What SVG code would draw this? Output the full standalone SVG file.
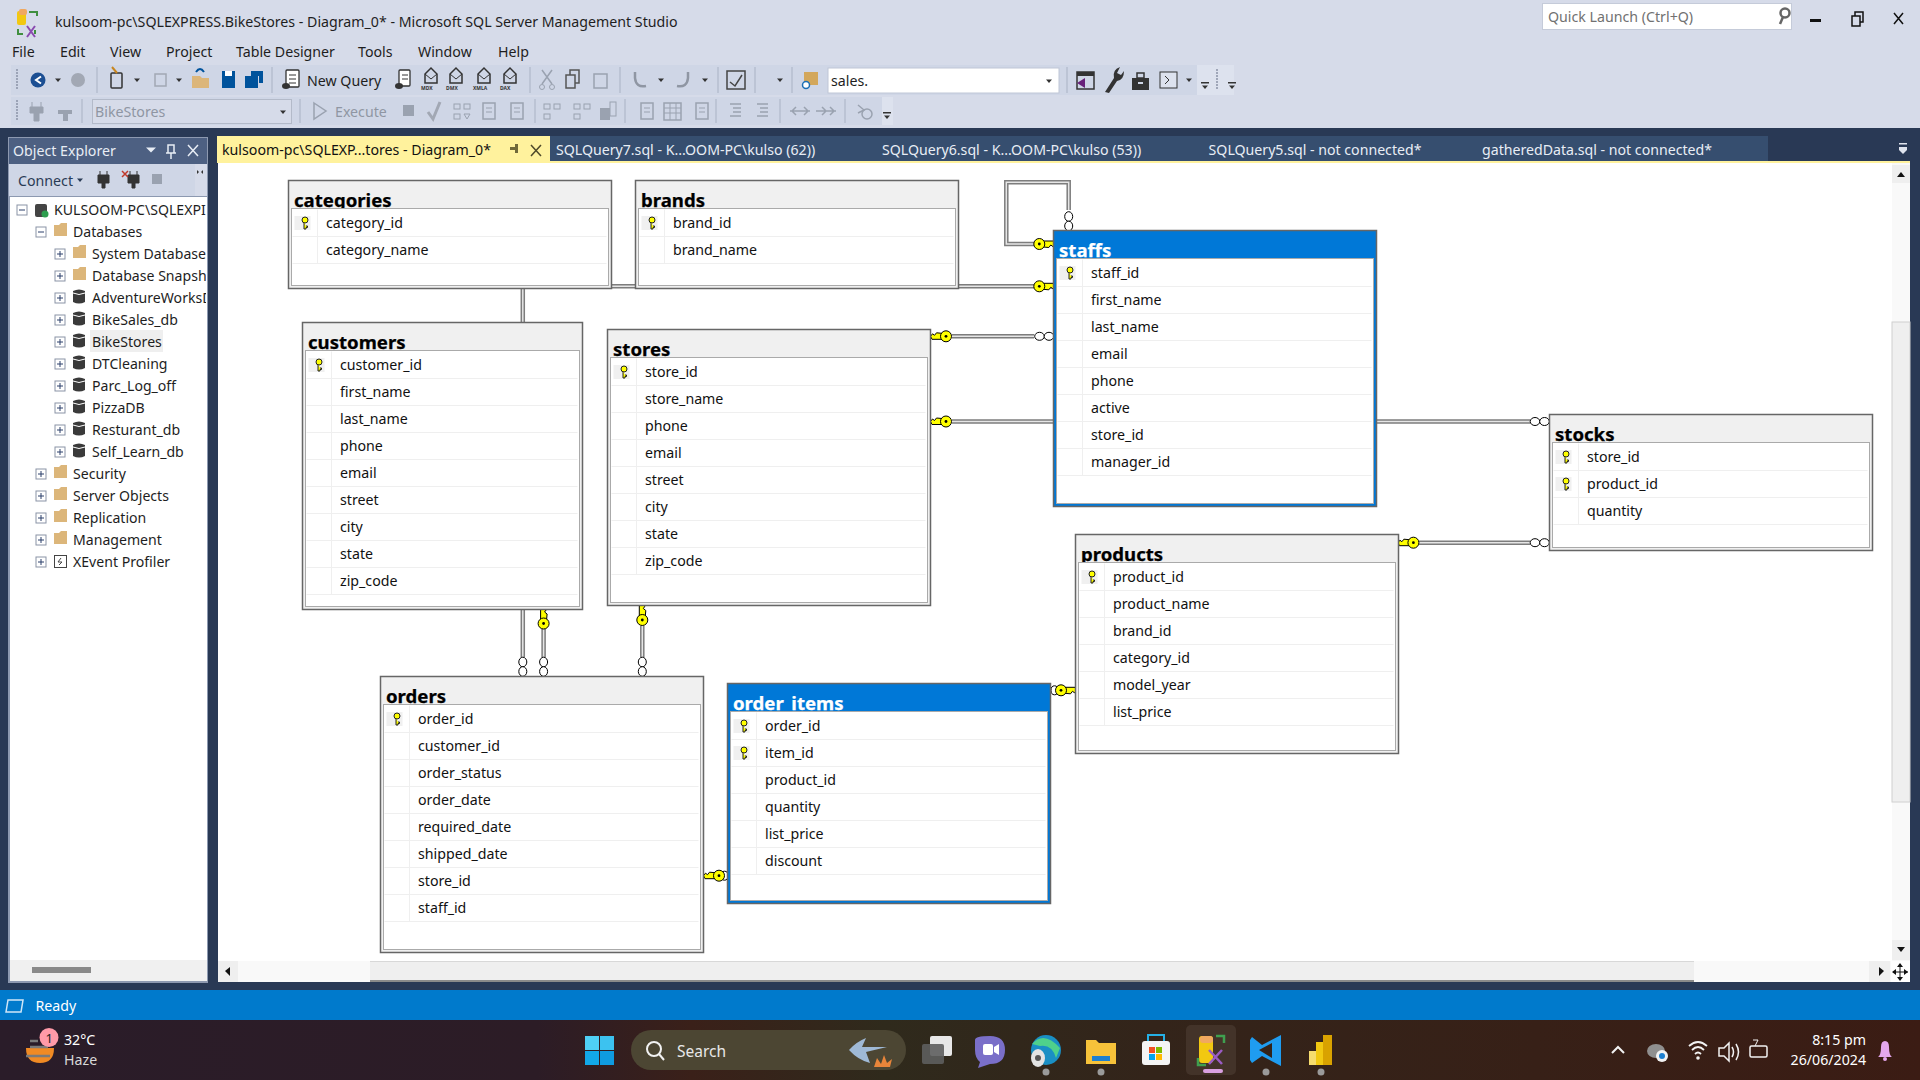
<svg xmlns="http://www.w3.org/2000/svg" width="1920" height="1080" viewBox="0 0 1920 1080">
<style>
text{font-family:"Noto Sans","Open Sans","Liberation Sans",sans-serif;fill:#1e1e1e;font-size:14.2px}
.cell{font-size:14.2px;fill:#111;transform:translateY(-1px)}
.title{font-size:18.6px;font-weight:700;fill:#000;stroke:#000;stroke-width:.25}
.title.sel{fill:#fff;stroke:#fff}
.box{fill:#f0f0f0;stroke:#666;stroke-width:1.5}
.box.sel{fill:#0078d7}
.inner{fill:#fff;stroke:#aaa;stroke-width:1}
.row{fill:none;stroke:#efefef;stroke-width:1}
.menu{font-size:14.2px}
.tree{font-size:14.1px;fill:#1e1e1e}
.tab{font-size:14.15px;fill:#e8edf5}
.dis{fill:#8f96a3}
.c-o{fill:none;stroke:#7d7d7d;stroke-width:4.5}
.c-i{fill:none;stroke:#e6e6e6;stroke-width:1.5}
.sep{stroke:#a9b2c4;stroke-width:1}
.ic{fill:#424242}
.ig{fill:#9aa2b0}
.navy{fill:#00539c}
.tb{fill:#cfd6e6}
.wt{fill:#fff;font-size:14.2px}
.plus{fill:#fff;stroke:#8a93a6;stroke-width:1}
.pm{stroke:#2a3f6b;stroke-width:1;fill:none}
.dd{fill:#333}
.dot{fill:#9a9a9a}
.lab{font-size:5px;font-weight:700;fill:#333}
</style>
<defs>
<linearGradient id="tbg" x1="0" x2="1" y1="0" y2="0">
<stop offset="0" stop-color="#2a1c29"/><stop offset=".28" stop-color="#2c1c26"/><stop offset=".36" stop-color="#3a2019"/><stop offset=".46" stop-color="#2f2a1c"/><stop offset=".6" stop-color="#33241a"/><stop offset="1" stop-color="#3b1c14"/>
</linearGradient>
<clipPath id="treeclip"><rect x="10" y="197" width="196" height="400"/></clipPath>
<g id="pk"><rect x="-8" y="-7" width="16" height="14" fill="#f0f0f0"/><circle cx="2.5" cy="-3" r="3" fill="#ff0" stroke="#222" stroke-width="1"/><path d="M1.5 -1V6H3.5V4.5H5V3H3.5" fill="#ff0" stroke="#222" stroke-width="1"/></g>
<g id="fk"><path d="M4 -3H14L15.500 0L13.500 2.500L11.500 1L9.500 3.500L4 3Z" fill="#ff0" stroke="#000" stroke-width="1"/><circle r="5.500" fill="#ff0" stroke="#000" stroke-width="1"/><circle r="1.400" fill="#000"/></g>
<g id="oo"><ellipse cx="0" rx="4.8" ry="4" fill="#fff" stroke="#000"/><ellipse cx="9.5" rx="4.8" ry="4" fill="#fff" stroke="#000"/></g>
<path id="l1" d="M1034 244H1006.3V182.3H1068.7V210"/>
<path id="l2" d="M1053 286.3H522.8V657"/>
<path id="l3" d="M952 336.3H1034"/>
<path id="l4" d="M952 421.5H1530"/>
<path id="l5" d="M1419 542.7H1530"/>
<path id="l6" d="M543.6 629V657"/>
<path id="l7" d="M642.3 626V657"/>
<g id="plusbox"><rect x="-5" y="-5" width="10" height="10" class="plus"/><path d="M-3 0H3M0 -3V3" class="pm"/></g>
<g id="minusbox"><rect x="-5" y="-5" width="10" height="10" class="plus"/><path d="M-3 0H3" class="pm"/></g>
<path id="folder" d="M0 -6H5L7 -8H13V5H0Z" fill="#dcb67a"/>
<g id="db"><path d="M0 -6Q6 -9 12 -6V5Q6 8 0 5Z" fill="#3a3a3a"/><path d="M0 -4Q6 -1 12 -4" stroke="#fff" fill="none"/></g>
<path id="ddm" d="M-3 -1.5H3L0 2Z" class="dd"/>
<g id="docg"><rect x="-6" y="-8" width="12" height="16" fill="none" stroke="#9aa2b0" stroke-width="1.5"/><path d="M-3 -3H3M-3 1H3" stroke="#9aa2b0"/></g>
<g id="cube"><path d="M-6 -2L0 -8L6 -2V7H-6Z" fill="none" stroke="#333" stroke-width="1.5"/><path d="M-6 -2L0 3L6 -2" fill="none" stroke="#333"/></g>
<path id="grip" d="M-1 -10H1M-1 -7H1M-1 -4H1M-1 -1H1M-1 2H1M-1 5H1M-1 8H1" stroke="#8a93a6" stroke-width="1.5"/>
</defs>

<rect width="1920" height="1080" fill="#d6dbe9"/>

<g id="titlebar">
<rect x="17" y="11" width="9" height="14" rx="2" fill="#f2c811"/><rect x="19" y="9" width="8" height="6" rx="2" fill="#f0a860"/>
<path d="M29 12H37V16M18 29V34H23M35 30V34" stroke="#3f8f3f" stroke-width="2" fill="none"/><path d="M27 26L35 37M35 26L27 37" stroke="#8a4bb0" stroke-width="2"/>
<text x="55" y="27" style="font-size:14.2px">kulsoom-pc\SQLEXPRESS.BikeStores - Diagram_0* - Microsoft SQL Server Management Studio</text>
<rect x="1542.500" y="3.500" width="249" height="26" fill="#fff" stroke="#c5cbd9"/>
<text x="1548" y="22" style="fill:#717171">Quick Launch (Ctrl+Q)</text>
<circle cx="1785" cy="13" r="4.500" fill="none" stroke="#666" stroke-width="2.500"/><path d="M1783 17L1780 24" stroke="#666" stroke-width="2.500"/>
<rect x="1810" y="19" width="11" height="3" fill="#111"/>
<rect x="1852" y="16" width="8" height="10" fill="none" stroke="#111" stroke-width="1.500"/><path d="M1855 16V12H1863V22H1860" fill="none" stroke="#111" stroke-width="1.500"/>
<path d="M1894 13L1903 24M1903 13L1894 24" stroke="#111" stroke-width="1.500"/>
</g>

<g id="menubar">
<text class="menu" x="12" y="57">File</text>
<text class="menu" x="60" y="57">Edit</text>
<text class="menu" x="110" y="57">View</text>
<text class="menu" x="166" y="57">Project</text>
<text class="menu" x="236" y="57">Table Designer</text>
<text class="menu" x="358" y="57">Tools</text>
<text class="menu" x="418" y="57">Window</text>
<text class="menu" x="498" y="57">Help</text>
</g>

<g id="toolbar1">
<rect class="tb" x="11" y="65" width="1186" height="30"/><rect x="1197" y="65" width="37" height="30" fill="#dde2ee"/>
<use href="#grip" x="17" y="80"/>
<circle cx="38" cy="80" r="7.500" fill="#1c4f93"/><path d="M41 76.500L36 80L41 83.500" stroke="#fff" stroke-width="2" fill="none"/>
<use href="#ddm" x="58" y="80"/>
<circle cx="78" cy="80" r="7" fill="#a2a8b4"/>
<path class="sep" d="M97 67V93"/>
<rect x="111" y="73" width="11" height="15" rx="1" fill="none" stroke="#333" stroke-width="1.500"/><path d="M112 67L117 73" stroke="#c8861f" stroke-width="2"/>
<use href="#ddm" x="137" y="80"/>
<rect x="155" y="74" width="11" height="12" fill="none" stroke="#a2a8b4" stroke-width="1.500"/>
<use href="#ddm" x="179" y="80"/>
<path d="M192 76H200L202 78H209V88H192Z" fill="#dcb67a"/><path d="M196 72Q200 66 204 72" stroke="#00539c" stroke-width="2" fill="none"/>
<path class="navy" d="M222 71H235V88H222Z"/><rect x="225" y="71" width="7" height="5" fill="#fff"/>
<path class="navy" d="M245 76H258V88H245Z"/><path class="navy" d="M251 71H263V83H259V76H251Z"/>
<path class="sep" d="M272 67V93"/>
<rect x="286" y="70" width="13" height="17" rx="1" fill="#fff" stroke="#333" stroke-width="1.300"/><path d="M289 75H296M289 79H296M289 83H296" stroke="#333"/><ellipse cx="286" cy="86" rx="4" ry="3" fill="#333"/>
<text x="307" y="86">New Query</text>
<rect x="399" y="70" width="11" height="16" rx="1" fill="#fff" stroke="#333" stroke-width="1.300"/><path d="M402 75H408M402 79H408" stroke="#333"/><ellipse cx="399" cy="86" rx="4" ry="3" fill="#333"/>
<use href="#cube" x="431" y="76"/><text class="lab" x="421" y="90">MDX</text>
<use href="#cube" x="456" y="76"/><text class="lab" x="446" y="90">DMX</text>
<use href="#cube" x="484" y="76"/><text class="lab" x="473" y="90">XMLA</text>
<use href="#cube" x="510" y="76"/><text class="lab" x="500" y="90">DAX</text>
<path class="sep" d="M530 67V93"/>
<path d="M542 70L552 84M552 70L542 84" stroke="#9aa2b0" stroke-width="1.500"/><circle cx="542" cy="87" r="2.500" fill="none" stroke="#9aa2b0"/><circle cx="552" cy="87" r="2.500" fill="none" stroke="#9aa2b0"/>
<rect x="570" y="70" width="9" height="13" fill="none" stroke="#555" stroke-width="1.500"/><rect x="566" y="75" width="9" height="13" fill="#cfd6e6" stroke="#555" stroke-width="1.500"/>
<rect x="594" y="74" width="13" height="14" fill="none" stroke="#9aa2b0" stroke-width="1.500"/>
<path class="sep" d="M620 67V93"/>
<path d="M635 72V78Q636 88 646 86" fill="none" stroke="#8f96a3" stroke-width="2.500"/><use href="#ddm" x="661" y="80"/>
<path d="M688 72V78Q687 88 677 86" fill="none" stroke="#8f96a3" stroke-width="2.500"/><use href="#ddm" x="705" y="80"/>
<path class="sep" d="M718 67V93"/>
<rect x="727" y="71" width="18" height="18" fill="#cfd6e6" stroke="#444" stroke-width="1.500"/><path d="M730 82L735 86L742 75" fill="none" stroke="#444" stroke-width="1.500"/>
<path class="sep" d="M755 67V93"/>
<use href="#ddm" x="780" y="80"/>
<path class="sep" d="M792 67V93"/>
<path d="M804 72H818V85H804Z" fill="#d3a75b"/><circle cx="806" cy="85" r="3.500" fill="#fff" stroke="#1c6fb5" stroke-width="1.500"/>
<rect x="828" y="68" width="231" height="25" fill="#fff" stroke="#bfc6d6"/>
<text x="831" y="86">sales.</text>
<use href="#ddm" x="1049" y="81"/>
<path class="sep" d="M1067 67V93"/>
<rect x="1077" y="72" width="17" height="17" fill="#cfd6e6" stroke="#333" stroke-width="1.500"/><rect x="1077" y="72" width="17" height="4" fill="#333"/><path d="M1077 83L1085 78V88Z" fill="#68217a"/>
<path d="M1105 92L1114 78Q1112 70 1120 67L1117 73L1121 75L1124 71Q1124 80 1117 81L1109 93Z" fill="#333"/>
<path d="M1132 78H1149V90H1132Z" fill="#333"/><rect x="1137" y="73" width="7" height="5" fill="none" stroke="#333" stroke-width="1.500"/><rect x="1138" y="82" width="5" height="2" fill="#cfd6e6"/>
<rect x="1160" y="72" width="17" height="16" fill="#dde2ee" stroke="#333"/><path d="M1165 76L1169 80L1165 84" fill="none" stroke="#333"/>
<use href="#ddm" x="1189" y="80"/>
<rect x="1201" y="82" width="8" height="1.500" fill="#333"/><use href="#ddm" x="1205" y="87"/>
<use href="#grip" x="1217" y="80"/>
<rect x="1228" y="82" width="8" height="1.500" fill="#333"/><use href="#ddm" x="1232" y="87"/>
</g>

<g id="toolbar2">
<rect class="tb" x="11" y="97" width="871" height="28"/><rect x="882" y="97" width="11" height="28" fill="#dde2ee"/>
<use href="#grip" x="17" y="111"/>
<path d="M32 102V107M41 102V107M30 107H43V113H39V121H34V113H30Z" class="ig" stroke="#9aa2b0"/>
<path d="M60 105V110M67 104V108M58 110H72V114H68V121H63V114H58Z" class="ig"/>
<path class="sep" d="M82 99V123"/>
<rect x="92.500" y="99.500" width="199" height="24" fill="#d6dbe9" stroke="#b3bac9"/>
<text x="95" y="117" class="dis">BikeStores</text>
<use href="#ddm" x="283" y="112"/>
<path class="sep" d="M300 99V123"/>
<path d="M314 103L326 111L314 119Z" fill="#cfd6e6" stroke="#9aa2b0" stroke-width="1.500"/>
<text x="335" y="117" class="dis">Execute</text>
<rect x="403" y="105" width="11" height="11" class="ig"/>
<path d="M428 112L433 119L440 102" fill="none" stroke="#a2a8b4" stroke-width="3"/>
<rect x="454" y="104" width="6" height="5" fill="none" stroke="#9aa2b0"/><rect x="464" y="104" width="6" height="5" fill="none" stroke="#9aa2b0"/><rect x="454" y="114" width="6" height="5" fill="none" stroke="#9aa2b0"/><path d="M464 114L470 114L467 119Z" fill="none" stroke="#9aa2b0"/>
<use href="#docg" x="489" y="111"/>
<use href="#docg" x="517" y="111"/>
<path class="sep" d="M535 99V123"/>
<rect x="544" y="104" width="6" height="5" fill="none" stroke="#9aa2b0"/><rect x="554" y="104" width="6" height="5" fill="none" stroke="#9aa2b0"/><rect x="544" y="114" width="6" height="5" fill="none" stroke="#9aa2b0"/>
<rect x="574" y="104" width="6" height="5" fill="none" stroke="#9aa2b0"/><rect x="584" y="104" width="6" height="5" fill="none" stroke="#9aa2b0"/><rect x="574" y="114" width="6" height="5" fill="none" stroke="#9aa2b0"/>
<rect x="600" y="108" width="10" height="12" class="ig"/><rect x="610" y="102" width="6" height="14" fill="none" stroke="#9aa2b0"/>
<path class="sep" d="M625 99V123"/>
<use href="#docg" x="647" y="111"/>
<rect x="664" y="103" width="17" height="17" fill="none" stroke="#9aa2b0" stroke-width="1.500"/><path d="M664 108H681M664 113H681M670 103V120M676 103V120" stroke="#9aa2b0"/>
<use href="#docg" x="702" y="111"/>
<path class="sep" d="M716 99V123"/>
<path d="M730 104H741M733 108H741M733 112H741M730 116H741" stroke="#9aa2b0" stroke-width="1.500"/>
<path d="M757 104H768M760 108H768M760 112H768M757 116H768" stroke="#9aa2b0" stroke-width="1.500"/>
<path class="sep" d="M780 99V123"/>
<path d="M790 111H810M796 107L792 111L796 115M804 107L808 111L804 115" fill="none" stroke="#9aa2b0" stroke-width="1.500"/>
<path d="M816 111H836M822 107L826 111L822 115M830 107L834 111L830 115" fill="none" stroke="#9aa2b0" stroke-width="1.500"/>
<path class="sep" d="M845 99V123"/>
<circle cx="867" cy="114" r="5" fill="none" stroke="#9aa2b0" stroke-width="1.500"/><path d="M858 105L864 110L858 113" fill="none" stroke="#9aa2b0" stroke-width="1.500"/>
<rect x="883" y="112" width="8" height="1.500" fill="#333"/><use href="#ddm" x="887" y="117"/>
</g>

<rect x="0" y="128" width="1920" height="862" fill="#293955"/>

<g id="tabs">
<rect x="550" y="136" width="1218" height="25" fill="#364e6f"/>
<rect x="217" y="136" width="333" height="25" fill="#fff29d"/>
<rect x="217" y="161" width="1693" height="2" fill="#fff29d"/>
<text x="222" y="155" style="fill:#111">kulsoom-pc\SQLEXP...tores - Diagram_0*</text>
<path d="M510 147H515V144H518V153H515V150H510Z" fill="#70693a"/>
<path d="M531 145L541 156M541 145L531 156" stroke="#4f4a2a" stroke-width="1.500"/>
<text class="tab" x="556" y="155">SQLQuery7.sql - K...OOM-PC\kulso (62))</text>
<text class="tab" x="882" y="155">SQLQuery6.sql - K...OOM-PC\kulso (53))</text>
<text class="tab" x="1208.600" y="155">SQLQuery5.sql - not connected*</text>
<text class="tab" x="1482" y="155">gatheredData.sql - not connected*</text>
<rect x="1899" y="143" width="8" height="1.500" fill="#dfe4ee"/><path d="M1899 147H1907V150L1903 154L1899 150Z" fill="#dfe4ee"/>
</g>

<g id="object-explorer">
<rect x="8" y="137" width="200" height="846" fill="#8d99b0"/>
<rect x="9" y="138" width="198" height="26" fill="#4d6082"/>
<text x="13" y="156" style="fill:#e8edf5">Object Explorer</text>
<path d="M146 147.500H156L151 152.500Z" fill="#e8edf5"/>
<path d="M168 145H174V153H168ZM171 153V159M166 153H176" fill="none" stroke="#e8edf5" stroke-width="1.500"/>
<path d="M188 145L198 156M198 145L188 156" stroke="#e8edf5" stroke-width="1.500"/>
<rect x="9" y="164" width="198" height="32" fill="#cfd6e6"/>
<rect x="195" y="164" width="12" height="32" fill="#d6dbe9"/>
<text x="18" y="186" style="fill:#2a3b55">Connect</text>
<path d="M77 178.500H83L80 182Z" fill="#2a3b55"/>
<path d="M100 171V175M107 171V175M98 175H109V183H105V188H102V183H98Z" fill="#333" stroke="#333"/>
<path d="M130 171V175M137 171V175M128 175H139V183H135V188H132V183H128Z" fill="#333" stroke="#333"/>
<path d="M122 171L128 177M128 171L122 177" stroke="#c0392b" stroke-width="1.500"/>
<rect x="152" y="174" width="10" height="10" fill="#9aa2b0"/>
<path d="M197 170L199 172L197 174M203 170L201 172L203 174" fill="#333"/>
<rect x="10" y="197" width="197" height="784" fill="#fff"/>
<rect x="90" y="330" width="73" height="22" fill="#efefef"/>
<use href="#minusbox" x="22" y="210"/>
<rect x="35" y="204" width="12" height="13" rx="2" fill="#444"/><circle cx="45" cy="214" r="3.500" fill="#2e9e4f"/>
<use href="#minusbox" x="41" y="232"/><use href="#folder" x="54" y="231"/>
<use href="#plusbox" x="60" y="254"/><use href="#folder" x="73" y="253"/>
<use href="#plusbox" x="60" y="276"/><use href="#folder" x="73" y="275"/>
<use href="#plusbox" x="60" y="298"/><use href="#db" x="73" y="297"/>
<use href="#plusbox" x="60" y="320"/><use href="#db" x="73" y="319"/>
<use href="#plusbox" x="60" y="342"/><use href="#db" x="73" y="341"/>
<use href="#plusbox" x="60" y="364"/><use href="#db" x="73" y="363"/>
<use href="#plusbox" x="60" y="386"/><use href="#db" x="73" y="385"/>
<use href="#plusbox" x="60" y="408"/><use href="#db" x="73" y="407"/>
<use href="#plusbox" x="60" y="430"/><use href="#db" x="73" y="429"/>
<use href="#plusbox" x="60" y="452"/><use href="#db" x="73" y="451"/>
<use href="#plusbox" x="41" y="474"/><use href="#folder" x="54" y="473"/>
<use href="#plusbox" x="41" y="496"/><use href="#folder" x="54" y="495"/>
<use href="#plusbox" x="41" y="518"/><use href="#folder" x="54" y="517"/>
<use href="#plusbox" x="41" y="540"/><use href="#folder" x="54" y="539"/>
<use href="#plusbox" x="41" y="562"/><rect x="54.500" y="555.500" width="12" height="12" fill="#fff" stroke="#444"/><path d="M61 558L58 562H62L59 565" stroke="#444" fill="none"/>
<g clip-path="url(#treeclip)">
<text class="tree" x="54" y="215">KULSOOM-PC\SQLEXPI</text>
<text class="tree" x="73" y="237">Databases</text>
<text class="tree" x="92" y="259">System Database</text>
<text class="tree" x="92" y="281">Database Snapsh</text>
<text class="tree" x="92" y="303">AdventureWorksD</text>
<text class="tree" x="92" y="325">BikeSales_db</text>
<text class="tree" x="92" y="347">BikeStores</text>
<text class="tree" x="92" y="369">DTCleaning</text>
<text class="tree" x="92" y="391">Parc_Log_off</text>
<text class="tree" x="92" y="413">PizzaDB</text>
<text class="tree" x="92" y="435">Resturant_db</text>
<text class="tree" x="92" y="457">Self_Learn_db</text>
<text class="tree" x="73" y="479">Security</text>
<text class="tree" x="73" y="501">Server Objects</text>
<text class="tree" x="73" y="523">Replication</text>
<text class="tree" x="73" y="545">Management</text>
<text class="tree" x="73" y="567">XEvent Profiler</text>
</g>
<rect x="10" y="960" width="197" height="21" fill="#f0f0f0"/>
<rect x="32" y="967" width="59" height="6" fill="#8a8a8a"/>
</g>

<g id="canvas">
<rect x="218" y="163" width="1692" height="819" fill="#fff"/>
<rect x="1892" y="163" width="18" height="798" fill="#f9f9f9"/>
<rect x="1892" y="322" width="18" height="480" fill="#efefef" stroke="#d0d0d0"/>
<rect x="1892" y="165" width="18" height="18" fill="#efefef"/><path d="M1897 177L1901 172L1905 177Z" fill="#111"/>
<rect x="1892" y="940" width="18" height="20" fill="#efefef"/><path d="M1897 947L1901 952L1905 947Z" fill="#111"/>
<rect x="218" y="961" width="1692" height="21" fill="#f9f9f9"/>
<rect x="218" y="961" width="20" height="21" fill="#efefef"/><path d="M230 967L225 971L230 976Z" fill="#111"/>
<rect x="370" y="961" width="1324" height="21" fill="#efefef"/><rect x="370" y="980" width="1324" height="2" fill="#8a8a8a"/><rect x="370" y="961" width="1324" height="1" fill="#d8d8d8"/>
<rect x="1869" y="961" width="21" height="21" fill="#efefef"/><path d="M1879 967L1884 971L1879 976Z" fill="#111"/>
<rect x="1891" y="961" width="19" height="21" fill="#fff"/><path d="M1900 964V980M1893 972H1908" stroke="#111"/><path d="M1897 967L1900 963L1903 967ZM1897 977L1900 981L1903 977ZM1896 969L1892 972L1896 975ZM1904 969L1908 972L1904 975Z" fill="#111"/>
</g>

<g id="connectors">
<g class="c-o"><use href="#l1"/><use href="#l2"/><use href="#l3"/><use href="#l4"/><use href="#l5"/><use href="#l6"/><use href="#l7"/></g>
<g class="c-i"><use href="#l1"/><use href="#l2"/><use href="#l3"/><use href="#l4"/><use href="#l5"/><use href="#l6"/><use href="#l7"/></g>
<use href="#fk" transform="translate(1039.300 244)"/>
<use href="#oo" transform="translate(1068.700 216.500) rotate(90)"/>
<use href="#fk" transform="translate(1039.300 286.300)"/>
<use href="#fk" transform="translate(946 336.300) rotate(180)"/>
<use href="#oo" transform="translate(1039.500 336.300)"/>
<use href="#fk" transform="translate(946 421.500) rotate(180)"/>
<use href="#oo" transform="translate(1535 421.500)"/>
<use href="#fk" transform="translate(1413.400 542.700) rotate(180)"/>
<use href="#oo" transform="translate(1535 542.700)"/>
<use href="#oo" transform="translate(522.800 662) rotate(90)"/>
<use href="#fk" transform="translate(543.600 623.500) rotate(-90)"/>
<use href="#oo" transform="translate(543.600 662) rotate(90)"/>
<use href="#fk" transform="translate(642.300 620) rotate(-90)"/>
<use href="#oo" transform="translate(642.300 662) rotate(90)"/>
<ellipse cx="724.500" cy="875.700" rx="3.500" ry="4.500" fill="#fff" stroke="#000"/>
<use href="#fk" transform="translate(719 875.700) rotate(180)"/>
<ellipse cx="1054.500" cy="690.300" rx="3.500" ry="4.500" fill="#fff" stroke="#000"/>
<use href="#fk" transform="translate(1061 690.300)"/>
</g>

<g id="categories" transform="translate(288.500 180.500)">
<rect class="box" width="323" height="108"/><text class="title" x="5.500" y="26.500">categories</text>
<rect class="inner" x="3" y="28" width="317" height="77"/>
<path class="row" d="M4 56H318M4 83H318M29 29V83"/>
<use href="#pk" x="14" y="42.500"/>
<text class="cell" x="37.500" y="48">category_id</text><text class="cell" x="37.500" y="75">category_name</text>
</g>
<g id="brands" transform="translate(635.500 180.500)">
<rect class="box" width="323" height="108"/><text class="title" x="5.500" y="26.500">brands</text>
<rect class="inner" x="3" y="28" width="317" height="77"/>
<path class="row" d="M4 56H318M4 83H318M29 29V83"/>
<use href="#pk" x="14" y="42.500"/>
<text class="cell" x="37.500" y="48">brand_id</text><text class="cell" x="37.500" y="75">brand_name</text>
</g>
<g id="customers" transform="translate(302.500 322.500)">
<rect class="box" width="280" height="287"/><text class="title" x="5.500" y="26.500">customers</text>
<rect class="inner" x="3" y="28" width="274" height="256"/>
<path class="row" d="M4 56H275M4 83H275M4 110H275M4 137H275M4 164H275M4 191H275M4 218H275M4 245H275M4 272H275M29 29V272"/>
<use href="#pk" x="14" y="42.500"/>
<text class="cell" x="37.500" y="48">customer_id</text><text class="cell" x="37.500" y="75">first_name</text><text class="cell" x="37.500" y="102">last_name</text><text class="cell" x="37.500" y="129">phone</text><text class="cell" x="37.500" y="156">email</text><text class="cell" x="37.500" y="183">street</text><text class="cell" x="37.500" y="210">city</text><text class="cell" x="37.500" y="237">state</text><text class="cell" x="37.500" y="264">zip_code</text>
</g>
<g id="stores" transform="translate(607.500 329.500)">
<rect class="box" width="323" height="276"/><text class="title" x="5.500" y="26.500">stores</text>
<rect class="inner" x="3" y="28" width="317" height="245"/>
<path class="row" d="M4 56H318M4 83H318M4 110H318M4 137H318M4 164H318M4 191H318M4 218H318M4 245H318M29 29V245"/>
<use href="#pk" x="14" y="42.500"/>
<text class="cell" x="37.500" y="48">store_id</text><text class="cell" x="37.500" y="75">store_name</text><text class="cell" x="37.500" y="102">phone</text><text class="cell" x="37.500" y="129">email</text><text class="cell" x="37.500" y="156">street</text><text class="cell" x="37.500" y="183">city</text><text class="cell" x="37.500" y="210">state</text><text class="cell" x="37.500" y="237">zip_code</text>
</g>
<g id="staffs" transform="translate(1053.500 230.500)">
<rect class="box sel" width="323" height="276"/><text class="title sel" x="5.500" y="26.500">staffs</text>
<rect class="inner" x="3" y="28" width="317" height="245"/>
<path class="row" d="M4 56H318M4 83H318M4 110H318M4 137H318M4 164H318M4 191H318M4 218H318M4 245H318M29 29V245"/>
<use href="#pk" x="14" y="42.500"/>
<text class="cell" x="37.500" y="48">staff_id</text><text class="cell" x="37.500" y="75">first_name</text><text class="cell" x="37.500" y="102">last_name</text><text class="cell" x="37.500" y="129">email</text><text class="cell" x="37.500" y="156">phone</text><text class="cell" x="37.500" y="183">active</text><text class="cell" x="37.500" y="210">store_id</text><text class="cell" x="37.500" y="237">manager_id</text>
</g>
<g id="stocks" transform="translate(1549.500 414.500)">
<rect class="box" width="323" height="136"/><text class="title" x="5.500" y="26.500">stocks</text>
<rect class="inner" x="3" y="28" width="317" height="105"/>
<path class="row" d="M4 56H318M4 83H318M4 110H318M29 29V110"/>
<use href="#pk" x="14" y="42.500"/><use href="#pk" x="14" y="69.500"/>
<text class="cell" x="37.500" y="48">store_id</text><text class="cell" x="37.500" y="75">product_id</text><text class="cell" x="37.500" y="102">quantity</text>
</g>
<g id="products" transform="translate(1075.500 534.500)">
<rect class="box" width="323" height="219"/><text class="title" x="5.500" y="26.500">products</text>
<rect class="inner" x="3" y="28" width="317" height="188"/>
<path class="row" d="M4 56H318M4 83H318M4 110H318M4 137H318M4 164H318M4 191H318M29 29V191"/>
<use href="#pk" x="14" y="42.500"/>
<text class="cell" x="37.500" y="48">product_id</text><text class="cell" x="37.500" y="75">product_name</text><text class="cell" x="37.500" y="102">brand_id</text><text class="cell" x="37.500" y="129">category_id</text><text class="cell" x="37.500" y="156">model_year</text><text class="cell" x="37.500" y="183">list_price</text>
</g>
<g id="orders" transform="translate(380.500 676.500)">
<rect class="box" width="323" height="276"/><text class="title" x="5.500" y="26.500">orders</text>
<rect class="inner" x="3" y="28" width="317" height="245"/>
<path class="row" d="M4 56H318M4 83H318M4 110H318M4 137H318M4 164H318M4 191H318M4 218H318M4 245H318M29 29V245"/>
<use href="#pk" x="14" y="42.500"/>
<text class="cell" x="37.500" y="48">order_id</text><text class="cell" x="37.500" y="75">customer_id</text><text class="cell" x="37.500" y="102">order_status</text><text class="cell" x="37.500" y="129">order_date</text><text class="cell" x="37.500" y="156">required_date</text><text class="cell" x="37.500" y="183">shipped_date</text><text class="cell" x="37.500" y="210">store_id</text><text class="cell" x="37.500" y="237">staff_id</text>
</g>
<g id="order_items" transform="translate(727.500 683.500)">
<rect class="box sel" width="323" height="220"/><text class="title sel" x="5.500" y="26.500">order_items</text>
<rect class="inner" x="3" y="28" width="317" height="189"/>
<path class="row" d="M4 56H318M4 83H318M4 110H318M4 137H318M4 164H318M4 191H318M29 29V191"/>
<use href="#pk" x="14" y="42.500"/><use href="#pk" x="14" y="69.500"/>
<text class="cell" x="37.500" y="48">order_id</text><text class="cell" x="37.500" y="75">item_id</text><text class="cell" x="37.500" y="102">product_id</text><text class="cell" x="37.500" y="129">quantity</text><text class="cell" x="37.500" y="156">list_price</text><text class="cell" x="37.500" y="183">discount</text>
</g>

<g id="statusbar">
<rect x="0" y="990" width="1920" height="30" fill="#007acc"/>
<path d="M6 1012L8 1000H23L21 1012Z" fill="none" stroke="#cfe6f7" stroke-width="1.500"/>
<text class="wt" x="35.500" y="1011">Ready</text>
</g>

<g id="taskbar">
<rect x="0" y="1020" width="1920" height="60" fill="url(#tbg)"/>
<path d="M26 1048H54Q54 1063 40 1063Q26 1063 26 1048Z" fill="#f08a24"/>
<path d="M30 1041H38M30 1047H48M26 1056H50" stroke="#7a7a7a" stroke-width="2.500"/>
<circle cx="49" cy="1037.500" r="9.500" fill="#ff9aa8"/><text x="45.500" y="1042.500" style="font-size:13px;fill:#222">1</text>
<text class="wt" x="64" y="1045">32°C</text>
<text class="wt" x="64" y="1065" style="fill:#d9d9d9">Haze</text>
<g id="winlogo"><rect x="585" y="1036" width="14" height="14" fill="#4fd0f5"/><rect x="600" y="1036" width="14" height="14" fill="#3cc2f0"/><rect x="585" y="1051" width="14" height="14" fill="#12a8e8"/><rect x="600" y="1051" width="14" height="14" fill="#0f9be0"/></g>
<rect x="631" y="1030" width="275" height="40" rx="20" fill="#4c4633"/>
<circle cx="654" cy="1049" r="7" fill="none" stroke="#f2f2f2" stroke-width="2"/><path d="M659 1054L664 1060" stroke="#f2f2f2" stroke-width="2"/>
<text x="677" y="1057" style="fill:#e8e8e8;font-size:15.500px">Search</text>
<path d="M849 1050Q856 1042 866 1038L862 1047L887 1047L866 1052L870 1063Q858 1060 849 1050Z" fill="#9fb9d6"/><path d="M874 1067L877 1058L881 1064L884 1055L887 1063L892 1059L890 1067Z" fill="#e8853a"/>
<rect x="930" y="1036" width="22" height="20" rx="2" fill="#e8e8e8"/><rect x="922" y="1044" width="22" height="20" rx="2" fill="#5e5e5e" opacity=".9"/>
<path d="M975 1040Q975 1036 990 1036Q1005 1036 1005 1050Q1005 1064 990 1064L978 1068L980 1062Q975 1058 975 1050Z" fill="#7a6fc9"/><rect x="983" y="1044" width="10" height="11" rx="2" fill="#fff"/><path d="M994 1047L999 1044V1055L994 1052Z" fill="#fff"/>
<circle cx="1046" cy="1050" r="15" fill="#1a8fc4"/><path d="M1032 1044Q1044 1030 1060 1048L1056 1058Q1052 1044 1040 1046Z" fill="#4fd18b"/><ellipse cx="1038" cy="1058" rx="7" ry="9" fill="#e3e3e3"/><circle cx="1038" cy="1058" r="3" fill="#555"/>
<path d="M1086 1040H1096L1099 1043H1116V1064H1086Z" fill="#f6c23a"/><rect x="1092" y="1056" width="18" height="5" fill="#1c7fd0"/>
<rect x="1142" y="1041" width="28" height="24" rx="3" fill="#f4f4f4"/><path d="M1148 1041V1035H1164V1041" fill="none" stroke="#25b0e6" stroke-width="2"/><rect x="1149" y="1047" width="6" height="6" fill="#f25022"/><rect x="1156" y="1047" width="6" height="6" fill="#7fba00"/><rect x="1149" y="1054" width="6" height="6" fill="#00a4ef"/><rect x="1156" y="1054" width="6" height="6" fill="#ffb900"/>
<rect x="1186" y="1025" width="50" height="50" rx="5" fill="#4a3a30" opacity=".7"/>
<rect x="1199" y="1036" width="14" height="27" rx="3" fill="#f2c811"/><rect x="1200" y="1036" width="13" height="7" rx="3" fill="#f0a860"/><path d="M1216 1036H1224V1043M1198 1058V1065H1206" stroke="#3f9f4f" stroke-width="2.500" fill="none"/><path d="M1209 1050L1222 1064M1222 1050L1209 1064" stroke="#9a5cc4" stroke-width="2.500"/>
<rect x="1203" y="1069" width="20" height="4" rx="2" fill="#d9a0e0"/>
<path d="M1281 1035V1066L1262 1056L1252 1063L1250 1060V1040L1252 1037L1262 1045ZM1272 1043L1259 1050L1272 1058Z" fill="#1f9cf0"/>
<rect x="1309" y="1051" width="8" height="14" fill="#f6dc6e"/><rect x="1316" y="1042" width="8" height="23" fill="#f2c811"/><rect x="1323" y="1035" width="9" height="30" fill="#d9a200"/>
<circle cx="1046" cy="1072" r="3.500" class="dot"/><circle cx="1101" cy="1072" r="3.500" class="dot"/><circle cx="1266" cy="1072" r="3.500" class="dot"/><circle cx="1321" cy="1072" r="3.500" class="dot"/>
<path d="M1612 1053L1618 1047L1624 1053" fill="none" stroke="#f2f2f2" stroke-width="2"/>
<ellipse cx="1656" cy="1051" rx="9" ry="7" fill="#8f8f8f"/><circle cx="1662" cy="1056" r="6" fill="#f2f2f2"/><circle cx="1662" cy="1056" r="3" fill="#1c7fd0"/>
<path d="M1689 1046Q1698 1038 1707 1046M1692 1050Q1698 1044 1704 1050M1695 1054Q1698 1051 1701 1054" fill="none" stroke="#f2f2f2" stroke-width="1.800"/><circle cx="1698" cy="1058" r="1.800" fill="#f2f2f2"/>
<path d="M1719 1048H1724L1729 1043V1061L1724 1056H1719Z" fill="none" stroke="#f2f2f2" stroke-width="1.500"/><path d="M1732 1047Q1735 1052 1732 1057M1736 1044Q1741 1052 1736 1060" fill="none" stroke="#f2f2f2" stroke-width="1.500"/>
<rect x="1750" y="1046" width="17" height="11" rx="1.500" fill="none" stroke="#f2f2f2" stroke-width="1.500"/><path d="M1755 1046L1758 1040H1753" stroke="#f2f2f2" fill="none"/>
<text x="1866" y="1045" text-anchor="end" class="wt">8:15 pm</text>
<text x="1866" y="1065" text-anchor="end" class="wt">26/06/2024</text>
<path d="M1878 1057Q1881 1055 1881 1047Q1881 1041 1885 1041Q1889 1041 1889 1047Q1889 1055 1892 1057Z" fill="#e5a7ee"/><circle cx="1885" cy="1059" r="2" fill="#e5a7ee"/>
</g>
</svg>
